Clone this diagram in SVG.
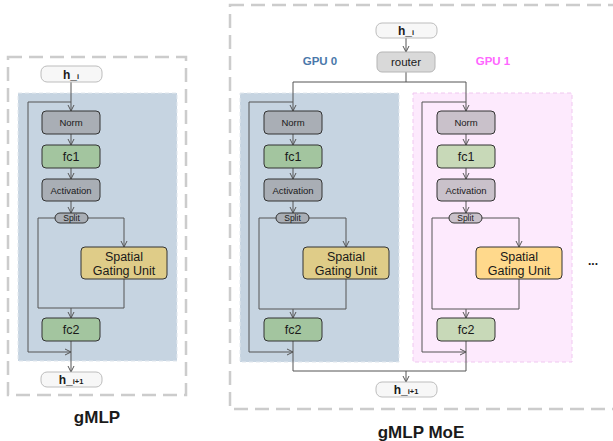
<svg xmlns="http://www.w3.org/2000/svg" width="613" height="441" viewBox="0 0 613 441">
<style>
.outer{fill:none;stroke:#cccccc;stroke-width:2.5;stroke-dasharray:14 7}
.reg0{fill:#c6d4e1;stroke:#e2e8ee;stroke-width:1;stroke-dasharray:4 3}
.reg1{fill:#fdeafd;stroke:#f0c8f0;stroke-width:1;stroke-dasharray:4 3}
.io{fill:#f7f7f7;stroke:#bdbdbd;stroke-width:1}
.rt{fill:#d9d9d9;stroke:#b5b5b5;stroke-width:1}
.gray{fill:#a9aeb5;stroke:#333;stroke-width:1}
.green{fill:#a3c59f;stroke:#333;stroke-width:1}
.gold{fill:#dfcc88;stroke:#333;stroke-width:1}
.gray1{fill:#c9c1ca;stroke:#333;stroke-width:1}
.green1{fill:#c8d9b8;stroke:#333;stroke-width:1}
.gold1{fill:#ffd98c;stroke:#333;stroke-width:1}
.ln{fill:none;stroke:#555;stroke-width:1}
.ar{fill:none;stroke:#555;stroke-width:1;marker-end:url(#a)}
text{font-family:"Liberation Sans",Arial,sans-serif;text-anchor:middle;fill:#1a1a1a}
.s9{font-size:9.5px}
.s12{font-size:12.5px}
.s8{font-size:8.5px}
.b{font-weight:bold}
</style>
<defs>
<marker id="a" viewBox="0 0 8 8" refX="7" refY="4" markerWidth="8" markerHeight="8" markerUnits="userSpaceOnUse" orient="auto">
<path d="M1,1 L7,4 L1,7" fill="none" stroke="#555" stroke-width="1"/>
</marker>
</defs>

<!-- Left panel -->
<rect class="outer" x="8" y="57" width="178" height="338"/>
<rect class="reg0" x="18" y="93" width="159" height="268"/>
<g id="connectors-left">
<path class="ar" d="M71,82 V111"/>
<path class="ar" d="M71,102 H28 V352 H71"/>
<path class="ar" d="M71,134 V145"/>
<path class="ar" d="M71,168 V179"/>
<path class="ar" d="M71,201 V213"/>
<path class="ar" d="M88,218 H124 V247"/>
<path class="ln" d="M55,218 H38 V308 H124 V279"/>
<path class="ar" d="M71,308 V318"/>
<path class="ar" d="M71,341 V372"/>
</g>
<g id="l-hi"><rect class="io" x="41" y="66" width="61" height="16" rx="6"/><text x="71" y="78.5" class="b" font-size="12">h_<tspan font-size="7.5">i</tspan></text></g>
<g id="l-norm"><rect class="gray" x="42" y="111" width="58" height="23" rx="4"/><text x="71" y="126" class="s9">Norm</text></g>
<g id="l-fc1"><rect class="green" x="42" y="145" width="58" height="23" rx="4"/><text x="71" y="161" class="s12">fc1</text></g>
<g id="l-act"><rect class="gray" x="42" y="179" width="58" height="22" rx="4"/><text x="71" y="193.5" class="s9">Activation</text></g>
<g id="l-split"><rect class="gray" x="55" y="213" width="33" height="10" rx="5"/><text x="71.5" y="221.2" class="s8">Split</text></g>
<g id="l-sgu"><rect class="gold" x="81" y="247" width="86" height="32" rx="4"/><text x="124" y="261" class="s12">Spatial</text><text x="124" y="275" class="s12">Gating Unit</text></g>
<g id="l-fc2"><rect class="green" x="42" y="318" width="58" height="23" rx="4"/><text x="71" y="334" class="s12">fc2</text></g>
<g id="l-hi1"><rect class="io" x="41" y="372" width="61" height="15" rx="6"/><text x="71" y="383.5" class="b" font-size="12">h_<tspan font-size="7.5">i+1</tspan></text></g>
<text x="97" y="423" class="b" font-size="17">gMLP</text>

<!-- Right panel -->
<rect class="outer" x="230" y="5" width="395" height="404"/>
<rect class="reg0" x="240" y="93" width="159" height="269"/>
<rect class="reg1" x="413" y="93" width="159" height="269"/>
<text x="320" y="65" class="b" font-size="11.5" style="fill:#4a78aa">GPU 0</text>
<text x="493" y="65" class="b" font-size="11.5" style="fill:#ff66ff">GPU 1</text>
<g id="connectors-right">
<path class="ar" d="M406,38 V52"/>
<path class="ln" d="M406,72 V82"/>
<path class="ar" d="M293,82 H466 V111"/>
<path class="ar" d="M293,82 V111"/>
<path class="ar" d="M293,102 H249 V352 H293"/>
<path class="ar" d="M293,134 V145"/>
<path class="ar" d="M293,168 V179"/>
<path class="ar" d="M293,201 V213"/>
<path class="ar" d="M309,218 H346 V247"/>
<path class="ln" d="M276,218 H259 V309 H346 V279"/>
<path class="ar" d="M293,309 V318"/>
<path class="ln" d="M293,341 V371 H466 V341"/>
<path class="ar" d="M406,371 V382"/>
<path class="ar" d="M466,102 H422 V352 H466"/>
<path class="ar" d="M466,134 V145"/>
<path class="ar" d="M466,168 V179"/>
<path class="ar" d="M466,201 V213"/>
<path class="ar" d="M482,218 H519 V247"/>
<path class="ln" d="M449,218 H432 V309 H519 V279"/>
<path class="ar" d="M466,309 V318"/>
</g>
<g id="r-hi"><rect class="io" x="376" y="23" width="61" height="15" rx="6"/><text x="406" y="35" class="b" font-size="12">h_<tspan font-size="7.5">i</tspan></text></g>
<g id="r-router"><rect class="rt" x="377" y="52" width="58" height="20" rx="5"/><text x="406" y="66" font-size="11.5">router</text></g>
<g id="g0-norm"><rect class="gray" x="264" y="111" width="58" height="23" rx="4"/><text x="293" y="126" class="s9">Norm</text></g>
<g id="g0-fc1"><rect class="green" x="264" y="145" width="58" height="23" rx="4"/><text x="293" y="161" class="s12">fc1</text></g>
<g id="g0-act"><rect class="gray" x="264" y="179" width="58" height="22" rx="4"/><text x="293" y="193.5" class="s9">Activation</text></g>
<g id="g0-split"><rect class="gray" x="276" y="213" width="33" height="10" rx="5"/><text x="292.5" y="221.2" class="s8">Split</text></g>
<g id="g0-sgu"><rect class="gold" x="303" y="247" width="86" height="32" rx="4"/><text x="346" y="261" class="s12">Spatial</text><text x="346" y="275" class="s12">Gating Unit</text></g>
<g id="g0-fc2"><rect class="green" x="264" y="318" width="58" height="23" rx="4"/><text x="293" y="334" class="s12">fc2</text></g>
<g id="g1-norm"><rect class="gray1" x="437" y="111" width="58" height="23" rx="4"/><text x="466" y="126" class="s9">Norm</text></g>
<g id="g1-fc1"><rect class="green1" x="437" y="145" width="58" height="23" rx="4"/><text x="466" y="161" class="s12">fc1</text></g>
<g id="g1-act"><rect class="gray1" x="437" y="179" width="58" height="22" rx="4"/><text x="466" y="193.5" class="s9">Activation</text></g>
<g id="g1-split"><rect class="gray1" x="449" y="213" width="33" height="10" rx="5"/><text x="465.5" y="221.2" class="s8">Split</text></g>
<g id="g1-sgu"><rect class="gold1" x="476" y="247" width="86" height="32" rx="4"/><text x="519" y="261" class="s12">Spatial</text><text x="519" y="275" class="s12">Gating Unit</text></g>
<g id="g1-fc2"><rect class="green1" x="437" y="318" width="58" height="23" rx="4"/><text x="466" y="334" class="s12">fc2</text></g>
<g id="r-hi1"><rect class="io" x="376" y="382" width="61" height="15" rx="6"/><text x="406" y="394" class="b" font-size="12">h_<tspan font-size="7.5">i+1</tspan></text></g>
<text x="593" y="265" class="b" font-size="12">...</text>
<text x="421" y="438" class="b" font-size="17">gMLP MoE</text>
</svg>
